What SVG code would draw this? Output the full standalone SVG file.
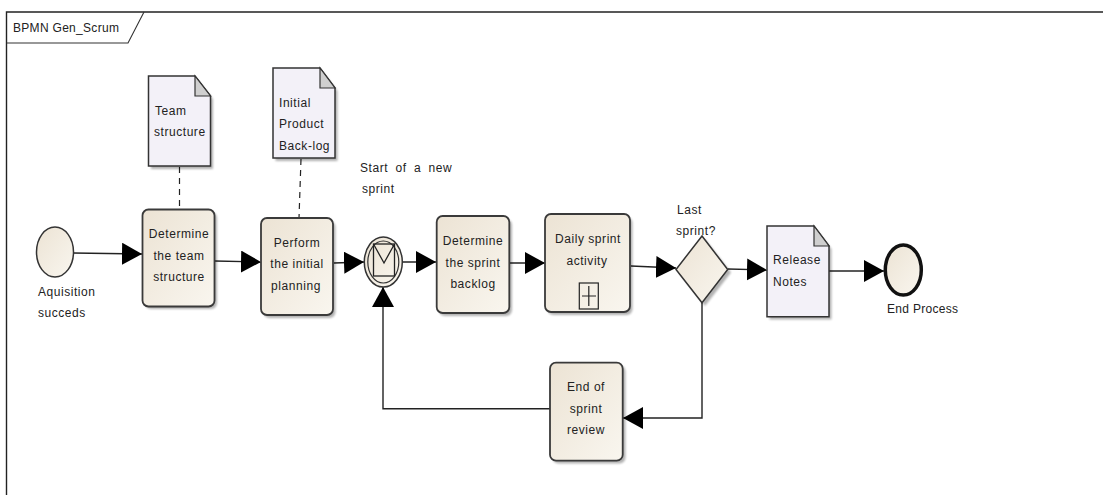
<svg xmlns="http://www.w3.org/2000/svg" width="1103" height="495" viewBox="0 0 1103 495">
<style>
text{font-family:"Liberation Sans",Arial,sans-serif;font-size:12px;fill:#222;letter-spacing:.55px}
.m{text-anchor:middle}
.task{fill:url(#g);stroke:#3a3a3a;stroke-width:1.8}
.sh{fill:#000;opacity:.3;filter:url(#b)}
.note{fill:#f3f1f8;stroke:#333;stroke-width:1.5}
.fold{fill:#cfcfcf;stroke:#333;stroke-width:1.2}
.ev{fill:url(#g);stroke:#333;stroke-width:1.5}
.c{fill:none;stroke:#222;stroke-width:1.4}
.a{marker-end:url(#ah)}
.d{fill:none;stroke:#222;stroke-width:1.2;stroke-dasharray:6 5}
</style>
<defs>
<linearGradient id="g" x1="0" y1="0" x2="1" y2="1"><stop offset="0" stop-color="#ece3d4"/><stop offset="1" stop-color="#f9f6ef"/></linearGradient>
<filter id="b" x="-20%" y="-20%" width="140%" height="140%"><feGaussianBlur stdDeviation="1.3"/></filter>
<marker id="ah" markerUnits="userSpaceOnUse" markerWidth="21" markerHeight="23" refX="20" refY="11" orient="auto"><path d="M0 0L20 11L0 22Z" fill="#000"/></marker>
</defs>
<rect width="1103" height="495" fill="#fff"/>
<g id="frame">
<path d="M1103 12H6.5V495" fill="none" stroke="#222" stroke-width="1.4"/>
<path d="M6.5 43H128L144 12" fill="none" stroke="#333" stroke-width="1.1"/>
<text x="13" y="32" style="letter-spacing:.3px">BPMN Gen_Scrum</text>
</g>
<g id="connectors">
<path class="c a" d="M73 253L142 254"/>
<path class="c a" d="M215 261L261 262"/>
<path class="c a" d="M334 263L364 262"/>
<path class="c a" d="M403 262L436 262"/>
<path class="c a" d="M509 263L545 263"/>
<path class="c a" d="M631 266L676 268"/>
<path class="c a" d="M728 269L767 270"/>
<path class="c a" d="M829 271L884 271"/>
<path class="c a" d="M702 303V418H623"/>
<path class="c a" d="M550 408.7H383V287"/>
<path class="d" d="M179.5 167V209"/>
<path class="d" d="M301 159L299 218"/>
</g>
<g id="start-event">
<ellipse class="ev" cx="55" cy="252" rx="18.5" ry="25"/>
<text x="38" y="296">Aquisition</text><text x="38" y="317">succeds</text>
</g>
<g id="note-team">
<path class="sh" d="M151 79H197L213 99V169H151Z"/>
<path class="note" d="M148.5 76H195L210.5 96V166H148.5Z"/>
<path class="fold" d="M195 76V96H210.5Z"/>
<text x="155" y="115">Team</text><text x="154" y="136">structure</text>
</g>
<g id="note-backlog">
<path class="sh" d="M275.500 71H322L337.500 91V161H275.500Z"/>
<path class="note" d="M273 68H320L335 88V158H273Z"/>
<path class="fold" d="M320 68V88H335Z"/>
<text x="279" y="107">Initial</text><text x="279" y="128">Product</text><text x="279" y="150">Back-log</text>
</g>
<g id="task-team">
<rect class="sh" x="145" y="212" width="72" height="97" rx="6"/>
<rect class="task" x="142.500" y="209.500" width="72" height="97" rx="6"/>
<text class="m" x="179" y="238">Determine</text><text class="m" x="179" y="260">the team</text><text class="m" x="179" y="281">structure</text>
</g>
<g id="task-planning">
<rect class="sh" x="263.500" y="221" width="72" height="97" rx="6"/>
<rect class="task" x="261" y="218" width="72" height="97" rx="6"/>
<text class="m" x="297" y="247">Perform</text><text class="m" x="297" y="268">the initial</text><text class="m" x="296" y="290">planning</text>
</g>
<g id="message-event">
<ellipse class="ev" cx="383.300" cy="262" rx="19" ry="25"/>
<ellipse cx="383.300" cy="262" rx="15.500" ry="21" fill="none" stroke="#333" stroke-width="1.200"/>
<rect x="373.500" y="244" width="21" height="32" fill="none" stroke="#222" stroke-width="1.300"/>
<path d="M373.500 244L384 263L394.500 244" fill="none" stroke="#222" stroke-width="1.300"/>
<text x="360" y="172" style="word-spacing:3.500px">Start of a new</text><text x="362" y="193">sprint</text>
</g>
<g id="task-sprint-backlog">
<rect class="sh" x="439" y="219" width="73" height="97" rx="6"/>
<rect class="task" x="436.700" y="216" width="72.600" height="97" rx="6"/>
<text class="m" x="473" y="245">Determine</text><text class="m" x="473" y="267">the sprint</text><text class="m" x="473" y="288">backlog</text>
</g>
<g id="task-daily">
<rect class="sh" x="547.500" y="217" width="85" height="98" rx="6"/>
<rect class="task" x="545" y="214" width="85" height="98" rx="6"/>
<text class="m" x="588" y="243">Daily sprint</text><text class="m" x="587" y="265">activity</text>
<rect x="579.300" y="283" width="19" height="26" fill="none" stroke="#222" stroke-width="1.200"/>
<path d="M582 296H596M588.800 286V306" fill="none" stroke="#222" stroke-width="1.200"/>
</g>
<g id="gateway">
<path class="sh" d="M705 239L731 272.500L705 306L679 272.500Z"/>
<path class="ev" d="M702 236L727.700 269.500L702 302.700L676 269.500Z"/>
<text x="677" y="214">Last</text><text x="676" y="235">sprint?</text>
</g>
<g id="task-review">
<rect class="sh" x="552.500" y="365.500" width="73" height="98" rx="6"/>
<rect class="task" x="550" y="362.700" width="72.700" height="98" rx="6"/>
<text class="m" x="586" y="391">End of</text><text class="m" x="586" y="413">sprint</text><text class="m" x="586" y="434">review</text>
</g>
<g id="note-release">
<path class="sh" d="M769.500 229H816L831.500 249V319.500H769.500Z"/>
<path class="note" d="M767 226H814L829 246V316.700H767Z"/>
<path class="fold" d="M814 226V246H829Z"/>
<text x="773" y="264">Release</text><text x="773" y="286">Notes</text>
</g>
<g id="end-event">
<ellipse cx="903.300" cy="270" rx="18" ry="25" fill="url(#g)" stroke="#111" stroke-width="3.500"/>
<text x="887" y="313" style="letter-spacing:.3px">End Process</text>
</g>
</svg>
